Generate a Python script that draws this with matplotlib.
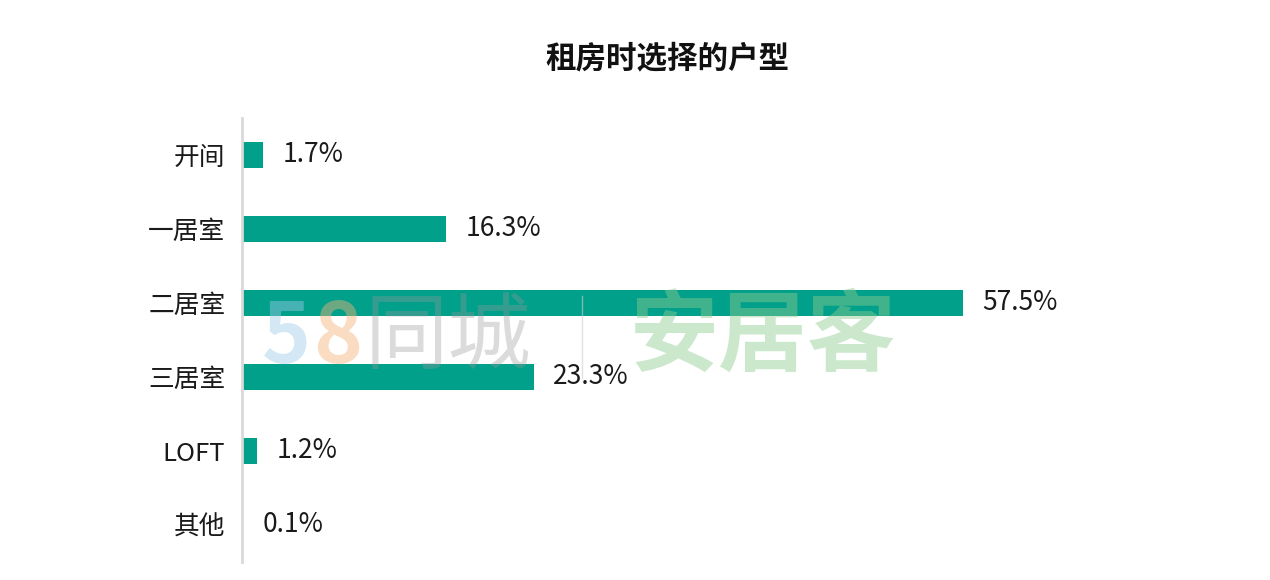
import matplotlib
matplotlib.use("Agg")
import matplotlib.pyplot as plt
from matplotlib.lines import Line2D

plt.rcParams['font.family'] = ['Noto Sans CJK SC', 'DejaVu Sans']

# data
categories = ['开间', '一居室', '二居室', '三居室', 'LOFT', '其他']
shares = [1.7, 16.3, 57.5, 23.3, 1.2, 0.1]
title = '租房时选择的户型'

bar_color = '#00A08A'

fig = plt.figure(figsize=(12.7, 5.8), dpi=100)
ax = fig.add_axes([242 / 1270, 1 - 562 / 580, 752 / 1270, 444 / 580])

ypos = list(range(len(categories)))
bars = ax.barh(ypos, shares, height=0.35, color=bar_color)
ax.set_xlim(0, 60)
ax.set_ylim(len(categories) - 0.5, -0.5)

ax.set_yticks(ypos)
ax.set_yticklabels(categories, fontsize=18.5, color='#1a1a1a')
ax.tick_params(axis='y', length=0, pad=12)
ax.set_xticks([])

for s in ['top', 'right', 'bottom']:
    ax.spines[s].set_visible(False)
ax.spines['left'].set_color('#d9d9d9')
ax.spines['left'].set_linewidth(2)

for b, v in zip(bars, shares):
    ax.annotate(f'{v}%', xy=(b.get_width(), b.get_y() + b.get_height() / 2),
                xytext=(14, 0), textcoords='offset points',
                va='center', ha='left', fontsize=19, color='#1a1a1a')

fig.text(667 / 1270, 1 - 58 / 580, title, ha='center', va='center',
         fontsize=22, fontweight='bold', color='#111111')

# faint watermark
wm_y = 1 - 338 / 580
fig.text(262 / 1270, wm_y, '5', fontsize=60, color='#9ecae9', alpha=0.45,
         ha='left', va='center', fontweight='bold')
fig.text(313 / 1270, wm_y, '8', fontsize=60, color='#f5b27a', alpha=0.45,
         ha='left', va='center', fontweight='bold')
fig.text(365 / 1270, wm_y, '同城', fontsize=60, color='#9a9a9a', alpha=0.35,
         ha='left', va='center')
fig.add_artist(Line2D([582 / 1270, 582 / 1270], [1 - 378 / 580, 1 - 296 / 580],
                      transform=fig.transFigure, color='#cccccc', lw=1, alpha=0.6))
fig.text(630 / 1270, wm_y, '安居客', fontsize=64, color='#8fcc8f', alpha=0.45,
         ha='left', va='center', fontweight='bold')

fig.savefig('out.png', dpi=100, facecolor='white')
